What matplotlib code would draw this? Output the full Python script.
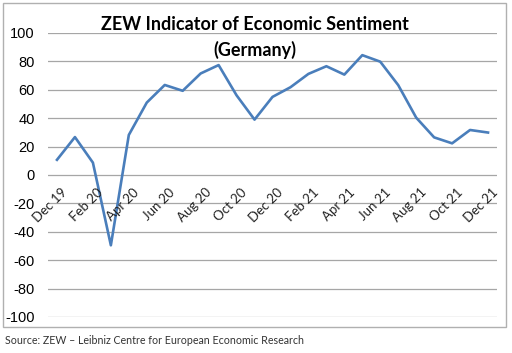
import matplotlib
matplotlib.use("Agg")
import matplotlib.pyplot as plt
from matplotlib.patches import Rectangle
from matplotlib.transforms import ScaledTranslation

months = ["Dec 19", "Jan 20", "Feb 20", "Mar 20", "Apr 20", "May 20", "Jun 20", "Jul 20",
          "Aug 20", "Sep 20", "Oct 20", "Nov 20", "Dec 20", "Jan 21", "Feb 21", "Mar 21",
          "Apr 21", "May 21", "Jun 21", "Jul 21", "Aug 21", "Sep 21", "Oct 21", "Nov 21", "Dec 21"]
values = [10.7, 26.7, 8.7, -49.5, 28.2, 51.0, 63.4, 59.3, 71.5, 77.4, 56.1, 39.0, 55.0,
          61.8, 71.2, 76.6, 70.7, 84.4, 79.8, 63.3, 40.4, 26.5, 22.3, 31.7, 29.9]
yticks = [100, 80, 60, 40, 20, 0, -20, -40, -60, -80, -100]

W, H = 512, 353
fig = plt.figure(figsize=(W/100, H/100), dpi=100)
fig.patch.set_facecolor("white")

fig.patches.append(Rectangle((3/W, 1 - 327/H), 503/W, 324/H, transform=fig.transFigure,
                             fill=False, edgecolor="#b0b0b0", linewidth=1.0))

ax = fig.add_axes([48/W, 1 - 317/H, 449/W, 284/H])
x = list(range(len(months)))
ax.plot(x, values, color="#4a7ebb", linewidth=1.9, solid_joinstyle="round")
ax.set_xlim(-0.5, len(months) - 0.5)
ax.set_ylim(-100, 100)
ax.set_yticks(yticks)
ax.set_yticklabels([str(v) for v in yticks], family="Liberation Sans", fontsize=10.5)
ax.grid(axis="y", color="#a6a6a6", linewidth=0.9)
ax.set_axisbelow(True)
for s in ax.spines.values():
    s.set_visible(False)
ax.tick_params(axis="y", length=0, pad=9.5)
ax.tick_params(axis="x", length=0, pad=0)

# x labels anchored at the zero line (Excel-style axis crossing)
off = ScaledTranslation(4/100, -11/100, fig.dpi_scale_trans)
ax.set_xticks([])
for i in x[::2]:
    ax.text(i, 0, months[i], transform=ax.transData + off, rotation=45,
            ha="right", va="top", rotation_mode="anchor", family="Lato", fontsize=9.5,
            color="#222222")

fig.text(255/W, 1 - 25/H, "ZEW Indicator of Economic Sentiment", ha="center", va="center",
         family="Lato", fontweight="bold", fontsize=13)
fig.text(255/W, 1 - 50/H, "(Germany)", ha="center", va="center",
         family="Lato", fontweight="bold", fontsize=13)
fig.text(5/W, 1 - 341/H, "Source: ZEW \u2013 Leibniz Centre for European Economic Research",
         ha="left", va="center", family="Lato", fontsize=7.7, color="#333333")

fig.savefig("out.png", dpi=100, facecolor="white")
